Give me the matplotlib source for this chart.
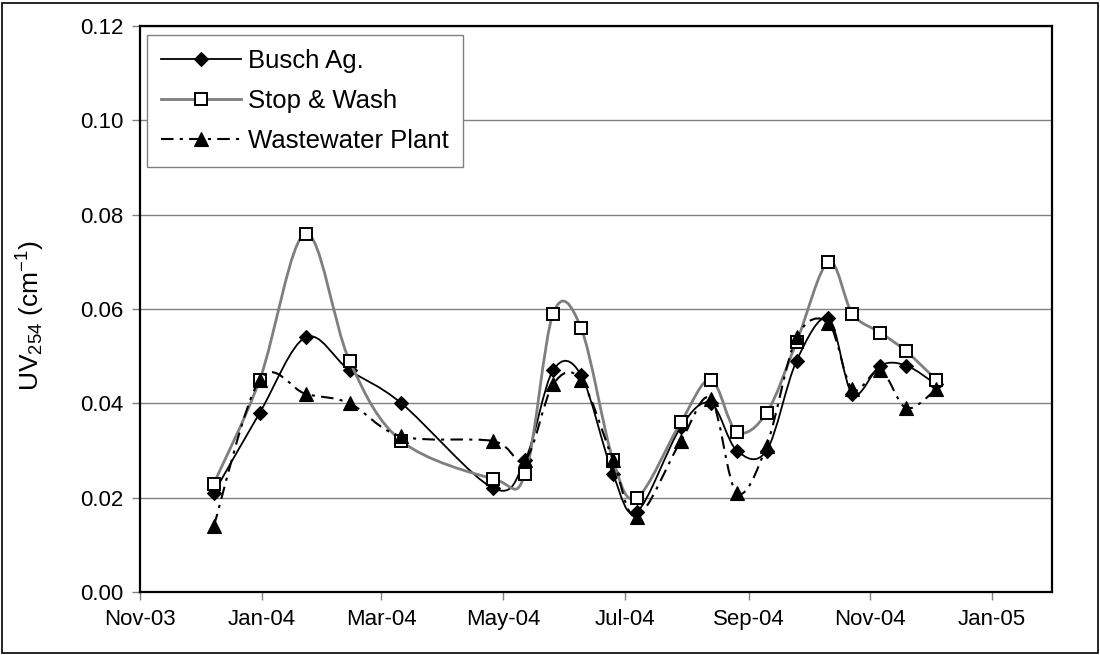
import datetime as dt
import numpy as np
import matplotlib
matplotlib.use("Agg")
import matplotlib.pyplot as plt
import matplotlib.dates as mdates
from matplotlib.path import Path
from matplotlib.patches import PathPatch, Rectangle
from matplotlib.lines import Line2D

# Sampling dates and UV254 absorbance readings
dates = ["2003-12-08", "2003-12-31", "2004-01-23", "2004-02-14", "2004-03-11",
         "2004-04-26", "2004-05-12", "2004-05-26", "2004-06-09", "2004-06-25",
         "2004-07-07", "2004-07-29", "2004-08-13", "2004-08-26", "2004-09-10",
         "2004-09-25", "2004-10-11", "2004-10-23", "2004-11-06", "2004-11-19",
         "2004-12-04"]
busch = [0.021, 0.038, 0.054, 0.047, 0.040, 0.022, 0.028, 0.047, 0.046, 0.025,
         0.017, 0.035, 0.040, 0.030, 0.030, 0.049, 0.058, 0.042, 0.048, 0.048, 0.044]
stop_wash = [0.023, 0.045, 0.076, 0.049, 0.032, 0.024, 0.025, 0.059, 0.056, 0.028,
             0.020, 0.036, 0.045, 0.034, 0.038, 0.053, 0.070, 0.059, 0.055, 0.051, 0.045]
wastewater = [0.014, 0.045, 0.042, 0.040, 0.033, 0.032, 0.028, 0.044, 0.045, 0.028,
              0.016, 0.032, 0.041, 0.021, 0.031, 0.054, 0.057, 0.043, 0.047, 0.039, 0.043]
labels = ["Busch Ag.", "Stop & Wash", "Wastewater Plant"]

plt.rcParams['font.family'] = ['Liberation Sans', 'DejaVu Sans']
plt.rcParams['mathtext.default'] = 'regular'


def smooth_path(x, y):
    """Excel-style smoothed line: Catmull-Rom converted to cubic Bezier."""
    pts = np.column_stack([x, y])
    n = len(pts)
    verts = [pts[0]]
    codes = [Path.MOVETO]
    for i in range(n - 1):
        p0 = pts[i - 1] if i > 0 else pts[i]
        p1 = pts[i]
        p2 = pts[i + 1]
        p3 = pts[i + 2] if i + 2 < n else pts[i + 1]
        verts += [p1 + (p2 - p0) / 6, p2 - (p3 - p1) / 6, p2]
        codes += [Path.CURVE4] * 3
    return Path(verts, codes)


x = mdates.date2num([dt.datetime.strptime(d, "%Y-%m-%d") for d in dates])

fig = plt.figure(figsize=(11, 6.55), dpi=100)
ax = fig.add_axes([140 / 1100, 1 - 592 / 655, 912 / 1100, 566 / 655])

series = [
    (busch, dict(color='black', lw=1.3, ls='-'),
     dict(marker='D', ms=7, mfc='black', mec='black', mew=0.8)),
    (stop_wash, dict(color='#7f7f7f', lw=2.0, ls='-'),
     dict(marker='s', ms=8.6, mfc='white', mec='black', mew=1.4)),
    (wastewater, dict(color='black', lw=1.5, ls=(0, (6, 3, 1.5, 3))),
     dict(marker='^', ms=9.5, mfc='black', mec='black', mew=0.8)),
]

handles = []
for k, (vals, lstyle, mstyle) in enumerate(series):
    patch = PathPatch(smooth_path(x, vals), fill=False, ec=lstyle['color'],
                      lw=lstyle['lw'], ls=lstyle['ls'], zorder=3 + k * 0.2)
    ax.add_patch(patch)
    ax.plot(x, vals, ls='none', zorder=3.1 + k * 0.2, **mstyle)
    handles.append(Line2D([], [], color=lstyle['color'], lw=lstyle['lw'],
                          ls=lstyle['ls'], **mstyle))

ax.set_xlim(mdates.date2num(dt.datetime(2003, 11, 1)),
            mdates.date2num(dt.datetime(2005, 1, 31)))
ax.set_ylim(0, 0.12)
ax.xaxis.set_major_locator(mdates.MonthLocator(bymonth=[1, 3, 5, 7, 9, 11]))
ax.xaxis.set_major_formatter(mdates.DateFormatter('%b-%y'))
ax.set_yticks(np.arange(0, 0.121, 0.02))
ax.yaxis.set_major_formatter(plt.FormatStrFormatter('%.2f'))

ax.grid(axis='y', color='#808080', lw=1.0)
ax.set_axisbelow(True)
for sp in ax.spines.values():
    sp.set_color('black')
    sp.set_linewidth(1.6)
ax.tick_params(direction='out', length=6, width=1, color='#808080',
               labelsize=16, pad=6)

ax.set_ylabel('UV$_{254}$ (cm$^{-1}$)', fontsize=19)
ax.yaxis.set_label_coords(-0.102, 0.488)

fig.legend(handles, labels, loc='upper left',
           bbox_to_anchor=(147 / 1100, 1 - 35 / 655), borderaxespad=0,
           fontsize=18.5, frameon=True, fancybox=False, edgecolor='#808080',
           framealpha=1, handlelength=3.1, handletextpad=0.3,
           labelspacing=0.62, borderpad=0.55, numpoints=1)

fig.patches.append(Rectangle((1.5 / 1100, 2.5 / 655), 1096 / 1100, 650 / 655,
                             transform=fig.transFigure, fill=False,
                             ec='black', lw=1.2))

fig.savefig('out.png', dpi=100)
